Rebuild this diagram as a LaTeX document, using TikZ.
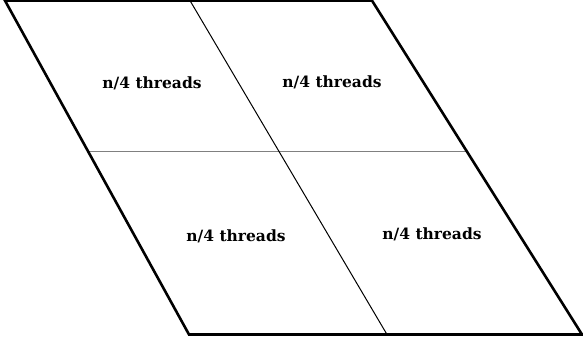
\documentclass[tikz,border=0pt]{standalone}
\usepackage{fontspec}
\newfontfamily\labelfont{DejaVu Serif}
\usetikzlibrary{calc}
\tikzset{
  quarter/.style={font=\labelfont\bfseries\fontsize{15.5}{17}\selectfont, inner sep=0pt},
}

\begin{document}
\begin{tikzpicture}[x=1pt,y=-1pt]
\useasboundingbox (0,0) rectangle (583,343);
\coordinate (tl) at (5,0.6);
\coordinate (tr) at (372,0.6);
\coordinate (br) at (582,334.5);
\coordinate (bl) at (189,334.5);
\coordinate (midtop) at (190,0.6);
\coordinate (midbot) at (387,334.5);
\coordinate (midleft) at ($(tl)!0.4528!(bl)$);
\coordinate (midright) at ($(tr)!0.4528!(br)$);
\draw[black!50, line width=1pt] (midleft) -- (midright);
\draw[black, line width=1pt] (midtop) -- (midbot);
\draw[black, line width=2.6pt, line join=miter] (tl) -- (tr) -- (br) -- (bl) -- cycle;
\node[quarter] (q1) at (152,83) {n/4 threads};
\node[quarter] (q2) at (332,82) {n/4 threads};
\node[quarter] (q3) at (236,236) {n/4 threads};
\node[quarter] (q4) at (432,234) {n/4 threads};
\end{tikzpicture}
\end{document}
